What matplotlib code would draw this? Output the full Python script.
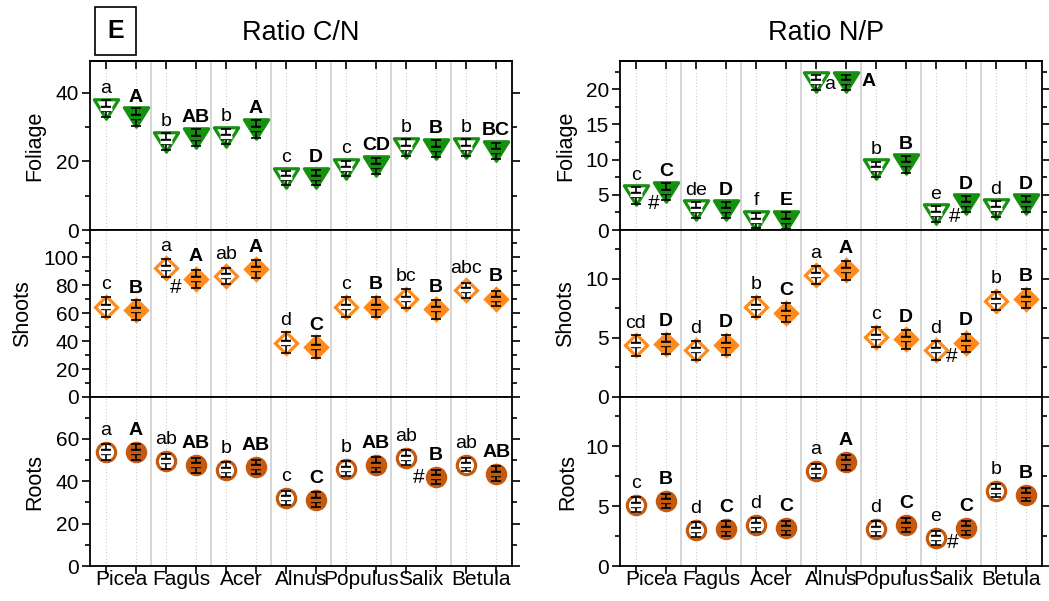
import numpy as np
import matplotlib.pyplot as plt
from matplotlib.patches import Rectangle
from matplotlib.path import Path

plt.rcParams['font.family'] = ['Liberation Sans', 'DejaVu Sans']

species = ['Picea', 'Fagus', 'Acer', 'Alnus', 'Populus', 'Salix', 'Betula']

# ratio C/N
cn_fol_open = [35.3, 25.7, 27.2, 15.2, 17.8, 24.0, 24.0]
cn_fol_fill = [32.8, 26.9, 29.5, 15.2, 18.7, 23.7, 23.0]
cn_fol_open_err = [2.5, 2.4, 2.3, 2.0, 2.2, 2.4, 2.5]
cn_fol_fill_err = [2.6, 2.5, 2.6, 2.2, 2.3, 2.4, 2.4]
cn_fol_open_lab = ['a', 'b', 'b', 'c', 'c', 'b', 'b']
cn_fol_fill_lab = ['A', 'AB', 'A', 'D', 'CD', 'B', 'BC']

cn_sh_open = [64.3, 92.1, 86.4, 38.8, 64.3, 70.3, 76.2]
cn_sh_fill = [61.9, 84.5, 91.2, 35.7, 64.3, 62.6, 70.3]
cn_sh_open_err = [7.0, 6.2, 6.0, 7.5, 7.0, 7.0, 5.5]
cn_sh_fill_err = [7.2, 6.5, 6.5, 8.0, 7.0, 7.0, 5.5]
cn_sh_open_lab = ['c', 'a', 'ab', 'd', 'c', 'bc', 'abc']
cn_sh_fill_lab = ['B', 'A', 'A', 'C', 'B', 'B', 'B']

cn_ro_open = [53.8, 49.4, 45.5, 32.1, 45.9, 51.1, 47.8]
cn_ro_fill = [53.8, 47.5, 46.7, 31.3, 47.8, 42.0, 43.6]
cn_ro_open_err = [3.7, 3.6, 3.4, 3.4, 3.4, 3.4, 3.2]
cn_ro_fill_err = [3.6, 3.6, 3.4, 3.6, 3.6, 3.4, 3.4]
cn_ro_open_lab = ['a', 'ab', 'b', 'c', 'b', 'ab', 'ab']
cn_ro_fill_lab = ['A', 'AB', 'AB', 'C', 'AB', 'B', 'AB']

# ratio N/P
np_fol_open = [4.96, 2.84, 1.32, 20.95, 8.6, 2.27, 2.98]
np_fol_fill = [5.43, 2.84, 1.32, 20.95, 9.36, 3.69, 3.69]
np_fol_open_err = [1.2, 1.1, 1.1, 1.0, 1.1, 1.2, 1.1]
np_fol_fill_err = [1.2, 1.2, 1.2, 1.1, 1.2, 1.2, 1.1]
np_fol_open_lab = ['c', 'de', 'f', 'a', 'b', 'e', 'd']
np_fol_fill_lab = ['C', 'D', 'E', 'A', 'B', 'D', 'D']

np_sh_open = [4.37, 3.94, 7.6, 10.3, 5.07, 3.94, 8.11]
np_sh_fill = [4.5, 4.42, 7.1, 10.7, 4.87, 4.56, 8.31]
np_sh_open_err = [0.9, 0.8, 0.85, 0.8, 0.85, 0.8, 0.75]
np_sh_fill_err = [0.85, 0.85, 0.8, 0.8, 0.8, 0.8, 0.8]
np_sh_open_lab = ['cd', 'd', 'b', 'a', 'c', 'd', 'b']
np_sh_fill_lab = ['D', 'D', 'C', 'A', 'D', 'D', 'B']

np_ro_open = [5.13, 3.04, 3.40, 7.94, 3.12, 2.34, 6.27]
np_ro_fill = [5.40, 3.12, 3.18, 8.64, 3.40, 3.18, 5.96]
np_ro_open_err = [0.65, 0.6, 0.6, 0.6, 0.6, 0.6, 0.55]
np_ro_fill_err = [0.6, 0.6, 0.6, 0.6, 0.6, 0.6, 0.55]
np_ro_open_lab = ['c', 'd', 'd', 'a', 'd', 'e', 'b']
np_ro_fill_lab = ['B', 'C', 'C', 'A', 'C', 'C', 'B']

green = '#16900f'
orange = '#ff8a1c'
brown = '#c45a10'

# wide downward triangle (wider than tall, like the original symbol)
tri = Path([(-1, 0.8), (1, 0.8), (0, -0.8), (-1, 0.8)],
           [Path.MOVETO, Path.LINETO, Path.LINETO, Path.CLOSEPOLY])

fig = plt.figure(figsize=(10.49, 6.01), dpi=100)

W, H = 1049, 601
def add_ax(x0, x1, y0, y1):
    return fig.add_axes([x0 / W, 1 - y1 / H, (x1 - x0) / W, (y1 - y0) / H])

rows = [(61, 230), (230, 397), (397, 566)]
cols = [(90, 512), (620, 1042)]
axes = [[add_ax(c[0], c[1], r[0], r[1]) for c in cols] for r in rows]

pos = np.arange(14)


def panel(ax, op, fi, ope, fie, opl, fil, mk, color, ms, yoff, ylim,
          major, minor, ylabel, lab_x, row, moved={}, hashes=()):
    for k, (vals, errs, labs) in enumerate([(op, ope, opl), (fi, fie, fil)]):
        xs = pos[k::2]
        face = 'white' if k == 0 else color
        ax.plot(xs, vals, ls='none', marker=mk, ms=ms, mfc=face, mec=color,
                mew=2.3, zorder=3)
        ax.errorbar(xs, vals, yerr=errs, fmt='none', ecolor='black',
                    elinewidth=1.2, capsize=3.5, capthick=1.2, zorder=4)
        ax.plot(xs, vals, ls='none', marker='_', ms=7.5, mec='black',
                mew=4.6, zorder=5)
        ax.plot(xs, vals, ls='none', marker='_', ms=8, mec=face,
                mew=2.4, zorder=6)
        for i, (xi, yi, t) in enumerate(zip(xs, vals, labs)):
            dx, dy = moved.get((k, i), (0, yoff))
            ax.annotate(t, (xi, yi), xytext=(dx, dy), textcoords='offset pixels',
                        ha='center', va='center', fontsize=14,
                        fontweight='bold' if k else 'normal', zorder=7)
    for hx, hy in hashes:
        ax.text(hx, hy, '#', fontsize=15, ha='center', va='center', zorder=7)

    for p in pos:
        ax.axvline(p, color='#cccccc', lw=0.8, ls=(0, (1, 2)), zorder=0)
    for s in np.arange(1.5, 13, 2):
        ax.axvline(s, color='#d2d2d2', lw=1.3, zorder=0)

    ax.set_xlim(-0.53, 13.53)
    ax.set_ylim(*ylim)
    ax.set_xticks(pos)
    ax.set_xticks(np.arange(0.5, 14, 2), minor=True)
    ax.tick_params(axis='x', which='major', direction='out', length=6,
                   width=1.2, labelbottom=False)
    if row == 2:
        ax.set_xticklabels(species, minor=True)
        ax.tick_params(axis='x', which='minor', length=0, labelsize=15, pad=3)
    else:
        ax.set_xticklabels([], minor=True)
        ax.tick_params(axis='x', which='minor', length=0)
    if row == 0:
        sec = ax.secondary_xaxis('top')
        sec.set_xticks(pos)
        sec.tick_params(direction='in', length=6, width=1.2, labeltop=False)
        sec.spines['top'].set_linewidth(1.3)
    ax.set_yticks(major)
    ax.set_yticks(minor, minor=True)
    ax.tick_params(axis='y', which='both', direction='out', right=True,
                   width=1.2, labelsize=15, pad=2)
    ax.tick_params(axis='y', which='major', length=6)
    ax.tick_params(axis='y', which='minor', length=3.5)
    for sp in ax.spines.values():
        sp.set_linewidth(1.3)
    ax.set_ylabel(ylabel, fontsize=15.5)
    ax.yaxis.set_label_coords(lab_x, 0.5)


panel(axes[0][0], cn_fol_open, cn_fol_fill, cn_fol_open_err, cn_fol_fill_err,
      cn_fol_open_lab, cn_fol_fill_lab, tri, green, 17.5, 20, (0, 49.2),
      [0, 20, 40], [10, 30], 'Foliage', -0.107, 0)
panel(axes[1][0], cn_sh_open, cn_sh_fill, cn_sh_open_err, cn_sh_fill_err,
      cn_sh_open_lab, cn_sh_fill_lab, 'D', orange, 11, 22, (0, 119.3),
      [0, 20, 40, 60, 80, 100], [10, 30, 50, 70, 90, 110], 'Shoots', -0.135, 1,
      hashes=[(2.33, 78.1)])
panel(axes[2][0], cn_ro_open, cn_ro_fill, cn_ro_open_err, cn_ro_fill_err,
      cn_ro_open_lab, cn_ro_fill_lab, 'o', brown, 13.2, 21.5, (0, 79.7),
      [0, 20, 40, 60], [10, 30, 50, 70], 'Roots', -0.107, 2,
      hashes=[(10.42, 41.7)])
panel(axes[0][1], np_fol_open, np_fol_fill, np_fol_open_err, np_fol_fill_err,
      np_fol_open_lab, np_fol_fill_lab, tri, green, 17.5, 20, (0, 24.0),
      [0, 5, 10, 15, 20], [2.5, 7.5, 12.5, 17.5, 22.5], 'Foliage', -0.104, 0,
      moved={(0, 3): (14, -2), (1, 3): (23, 1)},
      hashes=[(0.58, 3.7), (10.61, 1.9)])
panel(axes[1][1], np_sh_open, np_sh_fill, np_sh_open_err, np_sh_fill_err,
      np_sh_open_lab, np_sh_fill_lab, 'D', orange, 11, 22, (0, 14.1),
      [0, 5, 10], [2.5, 7.5, 12.5], 'Shoots', -0.104, 1,
      hashes=[(10.52, 3.38)])
panel(axes[2][1], np_ro_open, np_ro_fill, np_ro_open_err, np_ro_fill_err,
      np_ro_open_lab, np_ro_fill_lab, 'o', brown, 13.2, 21.5, (0, 14.1),
      [0, 5, 10], [2.5, 7.5, 12.5], 'Roots', -0.098, 2,
      hashes=[(10.54, 2.0)])

fig.text(301 / W, 1 - 33 / H, 'Ratio C/N', ha='center', va='center', fontsize=19.5)
fig.text(826 / W, 1 - 33 / H, 'Ratio N/P', ha='center', va='center', fontsize=19.5)
fig.patches.append(Rectangle((95 / W, 1 - 55 / H), 41 / W, 48 / H,
                             transform=fig.transFigure, fill=False,
                             ec='black', lw=1.2))
fig.text(115.5 / W, 1 - 31 / H, 'E', ha='center', va='center', fontsize=18,
         fontweight='bold')

plt.savefig('out.png', dpi=100)
